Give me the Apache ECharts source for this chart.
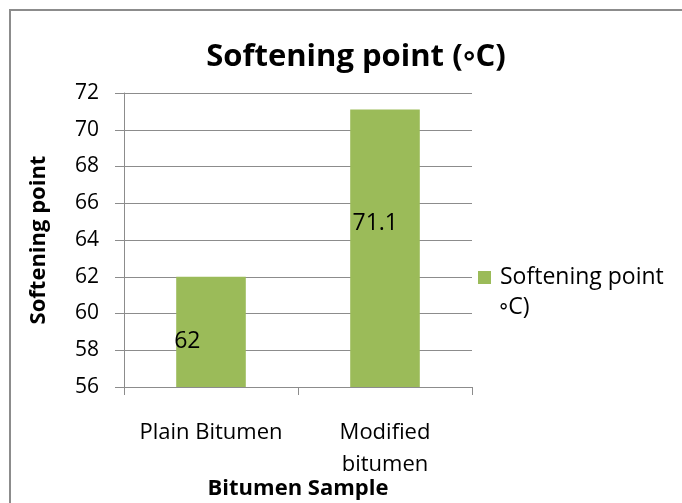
<!DOCTYPE html>
<html><head><meta charset="utf-8">
<script src="https://cdn.jsdelivr.net/npm/echarts@6/dist/echarts.min.js"></script>
<style>html,body{margin:0;padding:0;background:#fff}#c{width:682px;height:503px}</style>
</head><body><div id="c"></div>
<script>
const categories = ['Plain Bitumen', 'Modified\nbitumen'];
const values = [62, 71.1];
const seriesName = 'Softening point ◦C)';
const legendLines = ['Softening point', '◦C)'];
const titleText = 'Softening point (◦C)';
const xTitle = 'Bitumen Sample';
const yTitle = 'Softening point';
const yMin = 56, yMax = 72, yStep = 2;

const F = '"Open Sans", Lato, sans-serif';
const chart = echarts.init(document.getElementById('c'), null, {renderer: 'canvas'});
const labelPos = [['16%', '59%'], ['36%', '41%']];
chart.setOption({
  animation: false,
  title: {text: titleText, left: 351, top: 37, textAlign: 'center',
    textStyle: {fontFamily: F, fontSize: 31, fontWeight: 'bold', color: '#000'}},
  graphic: [
    {type: 'rect', shape: {x: 10, y: 10, width: 800, height: 600},
      style: {fill: 'none', stroke: '#8c8c8c', lineWidth: 2}, silent: true},
    {type: 'text', left: 499, top: 296,
      style: {text: legendLines[1], fontFamily: F, fontSize: 23, fill: '#000'}}
  ],
  legend: {left: 473, top: 261, orient: 'vertical', itemWidth: 13, itemHeight: 13,
    icon: 'rect', formatter: () => legendLines[0], itemGap: 0,
    textStyle: {fontFamily: F, fontSize: 23, color: '#000', padding: [0, 0, 0, 4]}},
  grid: {left: 124, right: 210, top: 93, bottom: 116, outerBoundsMode: 'none'},
  xAxis: {type: 'category', data: categories,
    name: xTitle, nameLocation: 'middle', nameGap: 91, nameMoveOverlap: false,
    nameTextStyle: {fontFamily: F, fontSize: 22, fontWeight: 'bold', color: '#000'},
    axisLine: {lineStyle: {color: '#8c8c8c'}},
    axisTick: {show: true, length: 8, lineStyle: {color: '#8c8c8c'}},
    axisLabel: {interval: 0, fontFamily: F, fontSize: 22, color: '#000', margin: 30, lineHeight: 32}},
  yAxis: {type: 'value', min: yMin, max: yMax, interval: yStep,
    name: yTitle, nameLocation: 'middle', nameGap: 74, nameRotate: 90,
    nameTextStyle: {fontFamily: F, fontSize: 22, fontWeight: 'bold', color: '#000'},
    axisLine: {show: true, lineStyle: {color: '#8c8c8c'}},
    axisTick: {show: true, length: 9, lineStyle: {color: '#8c8c8c'}},
    splitLine: {lineStyle: {color: '#8c8c8c'}},
    axisLabel: {fontFamily: F, fontSize: 21, color: '#000', margin: 25}},
  series: [{type: 'bar', name: seriesName, barWidth: '40%',
    itemStyle: {color: '#9bbb59'},
    data: values.map((v, i) => ({value: v, label: {position: labelPos[i]}})),
    label: {show: true, align: 'center', verticalAlign: 'middle',
      fontFamily: F, fontSize: 23, color: '#000'}}]
});
</script></body></html>
